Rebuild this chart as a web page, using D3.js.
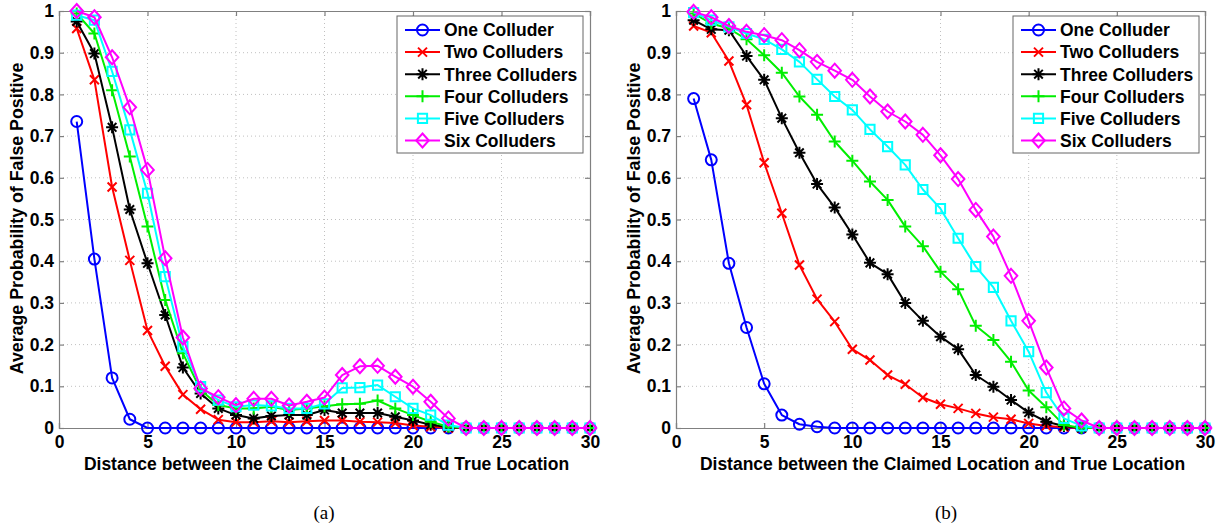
<!DOCTYPE html>
<html><head><meta charset="utf-8">
<script src="https://cdn.jsdelivr.net/npm/d3@7/dist/d3.min.js"></script>
<style>
html,body{margin:0;padding:0;background:#fff;}
</style></head>
<body>
<svg id="chart" width="1221" height="527"></svg>
<script>
// ---------- data ----------
const distance = [1,2,3,4,5,6,7,8,9,10,11,12,13,14,15,16,17,18,19,20,21,22,23,24,25,26,27,28,29,30];
const seriesNames = ["One Colluder","Two Colluders","Three Colluders","Four Colluders","Five Colluders","Six Colluders"];
const xTickValues = [0,5,10,15,20,25,30];
const xTickLabels = ["0","5","10","15","20","25","30"];
const yTickValues = [0,0.1,0.2,0.3,0.4,0.5,0.6,0.7,0.8,0.9,1];
const yTickLabels = ["0","0.1","0.2","0.3","0.4","0.5","0.6","0.7","0.8","0.9","1"];

// panel (a)
const a_one   = [0.735,0.405,0.12,0.021,0,0,0,0,0,0,0,0,0,0,0,0,0,0,0,0,0,0,0,0,0,0,0,0,0,0];
const a_two   = [0.958,0.835,0.578,0.402,0.234,0.148,0.08,0.045,0.02,0.014,0.014,0.016,0.014,0.016,0.018,0.018,0.015,0.014,0.012,0.006,0.003,0,0,0,0,0,0,0,0,0];
const a_three = [0.975,0.898,0.721,0.524,0.395,0.271,0.145,0.083,0.047,0.031,0.023,0.029,0.031,0.031,0.043,0.036,0.036,0.036,0.027,0.018,0.008,0.002,0,0,0,0,0,0,0,0];
const a_four  = [0.994,0.946,0.81,0.651,0.483,0.307,0.179,0.091,0.055,0.047,0.047,0.051,0.043,0.047,0.052,0.057,0.058,0.066,0.047,0.031,0.015,0.003,0,0,0,0,0,0,0,0];
const a_five  = [0.99,0.978,0.855,0.715,0.563,0.363,0.195,0.099,0.067,0.051,0.055,0.053,0.047,0.047,0.058,0.096,0.097,0.103,0.075,0.047,0.031,0.007,0,0,0,0,0,0,0,0];
const a_six   = [1.0,0.985,0.889,0.769,0.619,0.407,0.217,0.095,0.074,0.055,0.07,0.07,0.054,0.063,0.073,0.127,0.148,0.149,0.123,0.099,0.063,0.023,0,0,0,0,0,0,0,0];

// panel (b)
const b_one   = [0.79,0.643,0.395,0.241,0.106,0.031,0.009,0.003,0,0,0,0,0,0,0,0,0,0,0,0,0,0,0,0,0,0,0,0,0,0];
const b_two   = [0.964,0.948,0.88,0.775,0.636,0.515,0.391,0.309,0.255,0.189,0.163,0.127,0.105,0.073,0.057,0.047,0.035,0.026,0.021,0.011,0.005,0.002,0,0,0,0,0,0,0,0];
const b_three = [0.978,0.956,0.954,0.892,0.835,0.743,0.66,0.585,0.529,0.464,0.396,0.369,0.3,0.257,0.219,0.189,0.127,0.099,0.067,0.037,0.015,0.005,0,0,0,0,0,0,0,0];
const b_four  = [0.994,0.97,0.958,0.932,0.894,0.852,0.795,0.751,0.687,0.641,0.591,0.547,0.483,0.436,0.375,0.333,0.245,0.211,0.159,0.09,0.05,0.007,0,0,0,0,0,0,0,0];
const b_five  = [0.996,0.978,0.962,0.946,0.932,0.908,0.878,0.836,0.795,0.763,0.716,0.675,0.631,0.572,0.526,0.455,0.387,0.337,0.257,0.183,0.085,0.023,0.005,0,0,0,0,0,0,0];
const b_six   = [0.998,0.985,0.964,0.95,0.942,0.93,0.906,0.878,0.857,0.835,0.795,0.759,0.735,0.703,0.654,0.597,0.523,0.459,0.365,0.257,0.145,0.047,0.018,0,0,0,0,0,0,0];

const xTitle = "Distance between the Claimed Location and True Location";
const yTitle = "Average Probability of False Positive";
const captions = ["(a)","(b)"];

// ---------- styling ----------
const SANS = '"Liberation Sans",Arial,Helvetica,sans-serif';
const SERIF = '"Liberation Serif","Times New Roman",serif';
const colors  = ["#0000ff","#ff0000","#000000","#00ee00","#00ffff","#ff00ff"];
const markers = ["circle","times","asterisk","plus","square","diamond"];

function markerPath(type){
  const p = d3.path();
  if(type==="circle"){ p.moveTo(5.5,0); p.arc(0,0,5.5,0,2*Math.PI); }
  else if(type==="times"){ const r=4.5; p.moveTo(-r,-r);p.lineTo(r,r);p.moveTo(-r,r);p.lineTo(r,-r); }
  else if(type==="plus"){ const r=6; p.moveTo(-r,0);p.lineTo(r,0);p.moveTo(0,-r);p.lineTo(0,r); }
  else if(type==="asterisk"){ const r=6, q=4.3; p.moveTo(-r,0);p.lineTo(r,0);p.moveTo(0,-r);p.lineTo(0,r);
        p.moveTo(-q,-q);p.lineTo(q,q);p.moveTo(-q,q);p.lineTo(q,-q); }
  else if(type==="square"){ const r=4.6; p.rect(-r,-r,2*r,2*r); }
  else if(type==="diamond"){ const w=6.3,h=7; p.moveTo(0,-h);p.lineTo(w,0);p.lineTo(0,h);p.lineTo(-w,0);p.closePath(); }
  return p.toString();
}

const svg = d3.select("#chart");

function drawPanel(cfg){
  const {left,right,top,bottom,data,caption,legendX} = cfg;
  const x = d3.scaleLinear().domain([0,30]).range([left,right]);
  const y = d3.scaleLinear().domain([0,1]).range([bottom,top]);
  const g = svg.append("g");

  // grid
  const grid = g.append("g").attr("class","grid");
  grid.selectAll("line.vx").data(xTickValues.slice(1,-1)).enter().append("line")
    .attr("x1",d=>x(d)).attr("x2",d=>x(d)).attr("y1",top).attr("y2",bottom);
  grid.selectAll("line.hy").data(yTickValues.slice(1,-1)).enter().append("line")
    .attr("x1",left).attr("x2",right).attr("y1",d=>y(d)).attr("y2",d=>y(d));
  grid.selectAll("line").attr("stroke","#c0c0c0").attr("stroke-width",1).attr("stroke-dasharray","1,3");

  // axes (inward ticks on all four sides)
  const axCol = "#808080";
  const bottomAx = g.append("g").attr("transform",`translate(0,${bottom})`)
    .call(d3.axisBottom(x).tickValues(xTickValues).tickFormat((d,i)=>xTickLabels[i]).tickSize(-5).tickPadding(11));
  const topAx = g.append("g").attr("transform",`translate(0,${top})`)
    .call(d3.axisTop(x).tickValues(xTickValues).tickFormat("").tickSize(-5));
  const leftAx = g.append("g").attr("transform",`translate(${left},0)`)
    .call(d3.axisLeft(y).tickValues(yTickValues).tickFormat((d,i)=>yTickLabels[i]).tickSize(-5).tickPadding(5));
  const rightAx = g.append("g").attr("transform",`translate(${right},0)`)
    .call(d3.axisRight(y).tickValues(yTickValues).tickFormat("").tickSize(-5));
  [bottomAx,topAx,leftAx,rightAx].forEach(a=>{
    a.select(".domain").attr("stroke",axCol).attr("stroke-width",1.2);
    a.selectAll(".tick line").attr("stroke",axCol).attr("stroke-width",1.2);
    a.selectAll("text").attr("fill","#000").style("font-size","17.5px").style("font-weight","bold")
      .style("font-family",SANS);
  });
  bottomAx.selectAll("text").attr("dy","0.5em");

  // series
  const line = d3.line().x((d,i)=>x(distance[i])).y(d=>y(d));
  data.forEach((vals,si)=>{
    const sg = g.append("g");
    sg.append("path").datum(vals).attr("d",line).attr("fill","none")
      .attr("stroke",colors[si]).attr("stroke-width",2).attr("stroke-linejoin","round");
    sg.selectAll("path.m").data(vals).enter().append("path").attr("class","m")
      .attr("transform",(d,i)=>`translate(${x(distance[i])},${y(d)})`)
      .attr("d",markerPath(markers[si])).attr("fill","none")
      .attr("stroke",colors[si]).attr("stroke-width",2);
  });

  // legend
  const lg = g.append("g").attr("transform",`translate(${legendX},16)`);
  lg.append("rect").attr("x",0).attr("y",0).attr("width",186).attr("height",137)
    .attr("fill","#fff").attr("stroke","#666").attr("stroke-width",1);
  seriesNames.forEach((nm,si)=>{
    const cy = 14 + si*22.1;
    lg.append("line").attr("x1",8).attr("x2",43).attr("y1",cy).attr("y2",cy)
      .attr("stroke",colors[si]).attr("stroke-width",2);
    lg.append("path").attr("transform",`translate(25.5,${cy})`).attr("d",markerPath(markers[si]))
      .attr("fill","none").attr("stroke",colors[si]).attr("stroke-width",2);
    lg.append("text").attr("x",47).attr("y",cy).attr("dy","0.36em").text(nm)
      .style("font-family",SANS).style("font-size","17.5px").style("font-weight","bold").attr("fill","#000");
  });

  // titles
  g.append("text").attr("x",(left+right)/2 + 2).attr("y",470).attr("text-anchor","middle")
    .style("font-family",SANS).style("font-size","17.5px").style("font-weight","bold").text(xTitle);
  g.append("text").attr("transform",`translate(${left-36},${(top+bottom)/2 - 1}) rotate(-90)`)
    .attr("text-anchor","middle")
    .style("font-family",SANS).style("font-size","17.8px").style("font-weight","bold").text(yTitle);
  g.append("text").attr("x",cfg.captionX).attr("y",519).attr("text-anchor","middle")
    .style("font-family",SERIF).style("font-size","19px").text(caption);
}

drawPanel({left:59,right:590,top:11,bottom:428,legendX:397,captionX:324,caption:captions[0],
  data:[a_one,a_two,a_three,a_four,a_five,a_six]});
drawPanel({left:676,right:1205,top:11,bottom:428,legendX:1013,captionX:946,caption:captions[1],
  data:[b_one,b_two,b_three,b_four,b_five,b_six]});
</script>
</body></html>
